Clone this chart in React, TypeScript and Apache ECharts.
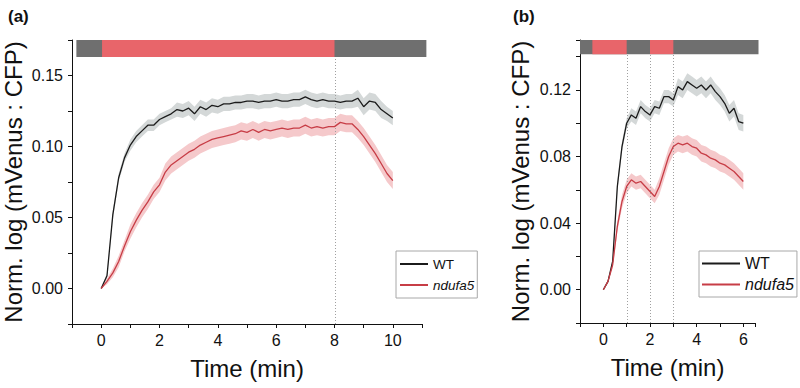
import React, { useEffect, useRef } from 'react';
import * as echarts from 'echarts';

// ---------- Panel (a) data ----------
const timeA = [0, 0.2, 0.4, 0.6, 0.8, 1.0, 1.2, 1.4, 1.6, 1.8, 2.0, 2.2, 2.4, 2.6, 2.8, 3.0, 3.2, 3.4, 3.6, 3.8,
  4.0, 4.2, 4.4, 4.6, 4.8, 5.0, 5.2, 5.4, 5.6, 5.8, 6.0, 6.2, 6.4, 6.6, 6.8, 7.0, 7.2, 7.4, 7.6, 7.8,
  8.0, 8.2, 8.4, 8.6, 8.8, 9.0, 9.2, 9.4, 9.6, 9.8, 10.0];
const wtA = [0, 0.009, 0.052, 0.078, 0.092, 0.101, 0.107, 0.111, 0.115, 0.115, 0.119, 0.121, 0.123, 0.126, 0.125,
  0.127, 0.123, 0.128, 0.126, 0.129, 0.128, 0.130, 0.130, 0.131, 0.131, 0.132, 0.132, 0.131, 0.132, 0.132,
  0.133, 0.132, 0.132, 0.133, 0.133, 0.135, 0.133, 0.132, 0.133, 0.132, 0.132, 0.131, 0.132, 0.132, 0.134,
  0.128, 0.132, 0.131, 0.126, 0.123, 0.120];
const wtErrA = [0.000, 0.002, 0.003, 0.003, 0.003, 0.004, 0.004, 0.004, 0.004, 0.004, 0.004, 0.004, 0.004, 0.005,
  0.005, 0.005, 0.005, 0.005, 0.005, 0.005, 0.005, 0.005, 0.005, 0.005, 0.005, 0.005, 0.005, 0.005, 0.005,
  0.005, 0.005, 0.005, 0.005, 0.005, 0.005, 0.005, 0.005, 0.005, 0.005, 0.005, 0.005, 0.005, 0.005, 0.005,
  0.006, 0.006, 0.006, 0.006, 0.006, 0.005, 0.005];
const ndA = [0, 0.005, 0.011, 0.019, 0.030, 0.040, 0.048, 0.055, 0.061, 0.068, 0.073, 0.082, 0.087, 0.090, 0.093,
  0.096, 0.098, 0.101, 0.103, 0.105, 0.106, 0.107, 0.108, 0.109, 0.111, 0.110, 0.112, 0.110, 0.112, 0.111,
  0.112, 0.113, 0.112, 0.113, 0.113, 0.115, 0.113, 0.114, 0.113, 0.114, 0.114, 0.117, 0.116, 0.116, 0.112,
  0.107, 0.101, 0.095, 0.088, 0.081, 0.076];
const ndErrA = [0.000, 0.002, 0.003, 0.004, 0.004, 0.005, 0.005, 0.005, 0.005, 0.005, 0.005, 0.006, 0.006, 0.006,
  0.006, 0.006, 0.006, 0.006, 0.006, 0.006, 0.006, 0.006, 0.006, 0.006, 0.006, 0.006, 0.006, 0.006, 0.006,
  0.006, 0.006, 0.006, 0.006, 0.006, 0.006, 0.006, 0.006, 0.006, 0.006, 0.006, 0.006, 0.006, 0.006, 0.006,
  0.006, 0.006, 0.006, 0.006, 0.006, 0.006, 0.006];

// ---------- Panel (b) data ----------
const timeB = [0, 0.2, 0.4, 0.6, 0.8, 1.0, 1.2, 1.4, 1.6, 1.8, 2.0, 2.2, 2.4, 2.6, 2.8, 3.0, 3.2, 3.4, 3.6, 3.8,
  4.0, 4.2, 4.4, 4.6, 4.8, 5.0, 5.2, 5.4, 5.6, 5.8, 6.0];
const wtB = [0, 0.005, 0.017, 0.062, 0.086, 0.100, 0.105, 0.103, 0.110, 0.107, 0.105, 0.110, 0.109, 0.116, 0.116,
  0.114, 0.122, 0.120, 0.125, 0.123, 0.121, 0.123, 0.120, 0.123, 0.119, 0.116, 0.112, 0.106, 0.109, 0.101, 0.100];
const wtErrB = [0.000, 0.001, 0.002, 0.003, 0.003, 0.003, 0.004, 0.004, 0.004, 0.004, 0.004, 0.004, 0.004, 0.004,
  0.004, 0.004, 0.005, 0.005, 0.005, 0.005, 0.005, 0.005, 0.005, 0.005, 0.005, 0.005, 0.005, 0.005, 0.005, 0.005, 0.005];
const ndB = [0, 0.005, 0.015, 0.038, 0.053, 0.062, 0.066, 0.064, 0.065, 0.062, 0.059, 0.056, 0.062, 0.071, 0.080,
  0.086, 0.088, 0.087, 0.088, 0.086, 0.085, 0.082, 0.081, 0.079, 0.078, 0.076, 0.075, 0.073, 0.071, 0.068, 0.065];
const ndErrB = [0.000, 0.001, 0.002, 0.003, 0.004, 0.004, 0.004, 0.004, 0.004, 0.004, 0.004, 0.004, 0.005, 0.005,
  0.005, 0.005, 0.005, 0.005, 0.005, 0.005, 0.005, 0.005, 0.005, 0.005, 0.005, 0.005, 0.005, 0.005, 0.005, 0.005, 0.005];

// ---------- Axis settings (tick step, labelled step) ----------
const xTickA = { min: -1, max: 11, step: 1, labelStep: 2 };
const yTickA = { min: -0.025, max: 0.175, step: 0.025, labelStep: 0.05 };
const xTickB = { min: -1, max: 6.5, step: 1, labelStep: 2 };
const yTickB = { min: -0.02, max: 0.15, step: 0.02, labelStep: 0.04 };

// ---------- Annotation (light-regime bars and dividers) ----------
const GRAY_BAR = '#6f6f6f';
const RED_BAR = '#e8656a';
const phasesA = [
  { from: -0.85, to: 11.15, color: GRAY_BAR },
  { from: 0.03, to: 8, color: RED_BAR },
];
const barYA = [0.163, 0.175];
const dividersA = [8];
const phasesB = [
  { from: -1, to: 6.65, color: GRAY_BAR },
  { from: -0.47, to: 1, color: RED_BAR },
  { from: 2, to: 3, color: RED_BAR },
];
const barYB = [0.1415, 0.15];
const dividersB = [1, 2, 3];

const FONT = '"Liberation Sans", Arial, Helvetica, sans-serif';
const WT_COLOR = '#1b1b1b';
const ND_COLOR = '#c73d46';
const WT_BAND = '#d4d8d8';
const ND_BAND = '#f5c9cb';

function zip(t: number[], v: number[]) {
  return t.map((x, i) => [x, v[i]]);
}

function band(id: string, t: number[], v: number[], e: number[], color: string, gi: number) {
  const data = t.map((x, i) => [x, v[i] - e[i], v[i] + e[i]]);
  return {
    name: id, type: 'custom', xAxisIndex: gi, yAxisIndex: gi, silent: true, z: 1,
    encode: { x: 0, y: [1, 2] },
    data,
    renderItem: (params: any, api: any) => {
      if (params.dataIndex !== 0) return null;
      const pts: number[][] = [];
      for (let i = 0; i < data.length; i++) pts.push(api.coord([data[i][0], data[i][1]]));
      for (let i = data.length - 1; i >= 0; i--) pts.push(api.coord([data[i][0], data[i][2]]));
      return { type: 'polygon', shape: { points: pts }, style: { fill: color, stroke: null } };
    },
  };
}

function phaseBar(id: string, phases: any[], barY: number[], gi: number) {
  const data = phases.map((p) => [p.from, p.to, barY[0], barY[1]]);
  return {
    name: id, type: 'custom', xAxisIndex: gi, yAxisIndex: gi, silent: true, clip: false, z: 2,
    encode: { x: [0, 1], y: [2, 3] },
    data,
    renderItem: (params: any, api: any) => {
      const p0 = api.coord([api.value(0), api.value(3)]);
      const p1 = api.coord([api.value(1), api.value(2)]);
      return {
        type: 'rect',
        shape: { x: p0[0], y: p0[1], width: p1[0] - p0[0], height: p1[1] - p0[1] },
        style: { fill: phases[params.dataIndex].color, stroke: null },
      };
    },
  };
}

function dividerLines(id: string, dividers: number[], yMin: number, yTop: number, gi: number) {
  const data = dividers.map((d) => [d, yMin, yTop]);
  return {
    name: id, type: 'custom', xAxisIndex: gi, yAxisIndex: gi, silent: true, z: 2,
    encode: { x: 0, y: [1, 2] },
    data,
    renderItem: (params: any, api: any) => {
      const a = api.coord([api.value(0), api.value(1)]);
      const b = api.coord([api.value(0), api.value(2)]);
      return {
        type: 'line',
        shape: { x1: Math.round(a[0]) + 0.5, y1: a[1], x2: Math.round(b[0]) + 0.5, y2: b[1] },
        style: { stroke: '#a0a0a0', lineWidth: 1, lineDash: [1, 2] },
      };
    },
  };
}

const isMult = (v: number, step: number) => Math.abs(Math.round(v / step) * step - v) < 1e-9;

function valueAxis(gi: number, tk: any, digits: number, name: string, nameGap: number, labelMargin: number) {
  return {
    type: 'value', gridIndex: gi, min: tk.min, max: tk.max, interval: tk.step,
    axisLine: { show: true, onZero: false, lineStyle: { color: '#111', width: 1 } },
    axisTick: { show: true, inside: false, length: 4, lineStyle: { color: '#111', width: 1 } },
    minorTick: { show: false },
    splitLine: { show: false },
    axisLabel: {
      show: true, interval: 0, hideOverlap: false, fontSize: 16, color: '#111', margin: labelMargin,
      fontFamily: FONT,
      formatter: (v: number) => (isMult(v, tk.labelStep) ? v.toFixed(digits) : ''),
    },
    name, nameLocation: 'middle', nameGap,
    nameTextStyle: { fontSize: 24, color: '#111', fontFamily: FONT },
  };
}

export default function App() {
  const ref = useRef<HTMLDivElement>(null);
  useEffect(() => {
    document.body.style.margin = '0';
    const chart = echarts.init(ref.current!, null, { renderer: 'svg' });
    const lineSeries = (name: string, gi: number, t: number[], v: number[], color: string) => ({
      name, type: 'line', xAxisIndex: gi, yAxisIndex: gi, symbol: 'none', z: 3,
      lineStyle: { color, width: 1.3 }, itemStyle: { color },
      data: zip(t, v),
    });
    const yName = 'Norm. log (mVenus : CFP)';
    const option: any = {
      animation: false,
      backgroundColor: '#ffffff',
      textStyle: { fontFamily: FONT },
      title: [
        { text: '(a)', left: 3, top: 3, textStyle: { fontSize: 17, fontWeight: 'bold', color: '#111', fontFamily: FONT } },
        { text: '(b)', left: 508, top: 3, textStyle: { fontSize: 17, fontWeight: 'bold', color: '#111', fontFamily: FONT } },
      ],
      grid: [
        { left: 72, top: 40, width: 350, height: 284 },
        { left: 580, top: 40, width: 175, height: 283 },
      ],
      xAxis: [
        valueAxis(0, xTickA, 0, 'Time (min)', 32, 8),
        valueAxis(1, xTickB, 0, 'Time (min)', 32, 8),
      ],
      yAxis: [
        valueAxis(0, yTickA, 2, yName, 47, 9),
        valueAxis(1, yTickB, 2, yName, 48, 9),
      ],
      legend: [
        {
          orient: 'vertical', left: 396, top: 251, padding: [4, 3, 4, 4], itemGap: 3,
          itemWidth: 28, itemHeight: 2, icon: 'rect', borderColor: '#a8a8a8', borderWidth: 1, borderRadius: 0,
          backgroundColor: '#fff',
          textStyle: { fontSize: 13.5, color: '#111', fontFamily: FONT, lineHeight: 18 },
          data: [{ name: 'WT' }, { name: 'ndufa5', textStyle: { fontStyle: 'italic' } }],
        },
        {
          orient: 'vertical', left: 699, top: 251, padding: [3, 3, 3, 3], itemGap: 2,
          itemWidth: 38, itemHeight: 2, icon: 'rect', borderColor: '#a8a8a8', borderWidth: 1, borderRadius: 0,
          backgroundColor: '#fff',
          textStyle: { fontSize: 16, color: '#111', fontFamily: FONT, lineHeight: 19 },
          data: [{ name: 'WT' }, { name: 'ndufa5', textStyle: { fontStyle: 'italic' } }],
        },
      ],
      series: [
        band('wtBandA', timeA, wtA, wtErrA, WT_BAND, 0),
        band('ndBandA', timeA, ndA, ndErrA, ND_BAND, 0),
        band('wtBandB', timeB, wtB, wtErrB, WT_BAND, 1),
        band('ndBandB', timeB, ndB, ndErrB, ND_BAND, 1),
        phaseBar('barsA', phasesA, barYA, 0),
        phaseBar('barsB', phasesB, barYB, 1),
        dividerLines('divA', dividersA, yTickA.min, barYA[0], 0),
        dividerLines('divB', dividersB, yTickB.min, barYB[0], 1),
        lineSeries('WT', 0, timeA, wtA, WT_COLOR),
        lineSeries('ndufa5', 0, timeA, ndA, ND_COLOR),
        lineSeries('WT', 1, timeB, wtB, WT_COLOR),
        lineSeries('ndufa5', 1, timeB, ndB, ND_COLOR),
      ],
    };
    chart.setOption(option);
    return () => chart.dispose();
  }, []);
  return <div ref={ref} style={{ width: 800, height: 388 }} />;
}
